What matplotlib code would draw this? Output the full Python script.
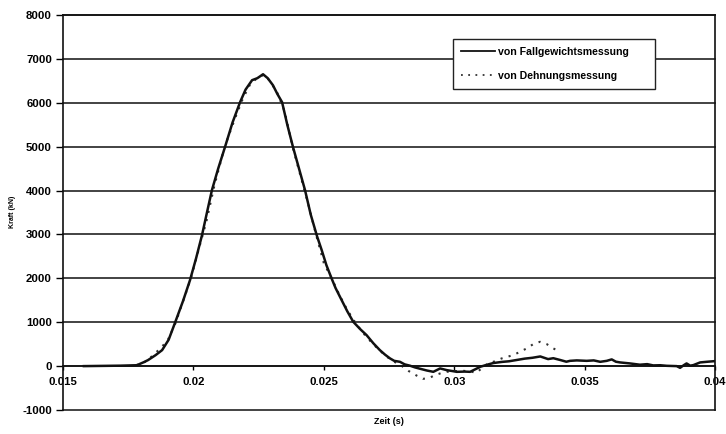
import matplotlib
matplotlib.use("Agg")
import matplotlib.pyplot as plt
from matplotlib.lines import Line2D

# Fallgewichtsmessung (solid)
t_fall = [0.0158, 0.0165, 0.0172, 0.01783, 0.0181, 0.01826, 0.01855, 0.01880, 0.01905, 0.01929,
          0.01960, 0.01987, 0.02010, 0.02033, 0.02052, 0.02071, 0.02095, 0.02121, 0.02150, 0.02179,
          0.02200, 0.02225, 0.02245, 0.02255, 0.02267, 0.02285, 0.02305, 0.02322, 0.02340, 0.02360,
          0.02382, 0.02405, 0.02428, 0.02450, 0.02474, 0.02492, 0.02510, 0.02530, 0.02545, 0.02562,
          0.02590, 0.02613, 0.02640, 0.02664, 0.02690, 0.02715, 0.02735, 0.02754, 0.02770, 0.02792,
          0.02810, 0.02830, 0.02850, 0.02869, 0.02895, 0.02920, 0.02946, 0.02971, 0.02990, 0.03010,
          0.03040, 0.03061, 0.03085, 0.03100, 0.03125, 0.03150, 0.03182, 0.03210, 0.03240, 0.03270,
          0.03300, 0.03330, 0.03345, 0.03360, 0.03380, 0.03406, 0.03430, 0.03444, 0.03470, 0.03508,
          0.03535, 0.03560, 0.03585, 0.03604, 0.03620, 0.03636, 0.03674, 0.03712, 0.03740, 0.03763,
          0.03790, 0.03815, 0.03853, 0.03866, 0.03880, 0.03891, 0.03905, 0.03917, 0.03943, 0.03968,
          0.04000]
f_fall = [0, 5, 10, 20, 90, 137, 250, 364, 600, 980,
          1480, 1959, 2450, 2984, 3500, 4009, 4500, 4989, 5550, 6014,
          6300, 6515, 6560, 6600, 6650, 6560, 6400, 6200, 6014, 5500,
          4989, 4500, 4009, 3450, 2960, 2642, 2300, 1997, 1780, 1579,
          1250, 1009, 840, 706, 520, 364, 260, 175, 120, 98,
          40, 10, -30, -60, -100, -130, -53, -91, -110, -130,
          -125, -130, -60, -15, 30, 70, 95, 110, 140, 170,
          190, 220, 190, 160, 180, 140, 100, 120, 130, 120,
          130, 98, 120, 153, 100, 84, 61, 32, 45, 16,
          20, 7, 0, -39, 20, 61, 10, 23, 84, 98,
          114]

# Dehnungsmessung (dotted)
t_dehn = [0.0178, 0.0182, 0.0186, 0.0190, 0.0193, 0.0196, 0.0199, 0.0202, 0.0205, 0.0208,
          0.0212, 0.0216, 0.0219, 0.0222, 0.0225, 0.0227, 0.0229, 0.0232, 0.0235, 0.0238,
          0.0241, 0.0244, 0.0247, 0.0250, 0.0253, 0.0256, 0.0259, 0.0262, 0.0265, 0.0268,
          0.0271, 0.0274, 0.0277, 0.02800, 0.02824, 0.02856, 0.02880, 0.02905, 0.02926, 0.02950,
          0.02971, 0.03000, 0.03034, 0.03060, 0.03086, 0.03105, 0.03125, 0.03155, 0.03182, 0.03205,
          0.03227, 0.03252, 0.03278, 0.03303, 0.03329, 0.03355, 0.03380, 0.03406]
f_dehn = [20, 110, 330, 570, 960, 1470, 1990, 2650, 3300, 4100,
          5000, 5650, 6100, 6450, 6580, 6640, 6520, 6250, 5800, 5000,
          4350, 3700, 3000, 2350, 2000, 1620, 1280, 1000, 760, 560,
          380, 220, 100, 0, -107, -216, -290, -270, -205, -160,
          -130, -115, -107, -120, -153, -50, 39, 110, 175, 215,
          251, 326, 403, 501, 554, 501, 403, 326]

x_ticks = [0.015, 0.02, 0.025, 0.03, 0.035, 0.04]
x_ticklabels = ["0.015", "0.02", "0.025", "0.03", "0.035", "0.04"]
y_ticks = [-1000, 0, 1000, 2000, 3000, 4000, 5000, 6000, 7000, 8000]

plt.rcParams['font.family'] = ['Liberation Sans', 'DejaVu Sans']

fig = plt.figure(figsize=(7.26, 4.34), dpi=100)
ax = fig.add_axes([63/726, 1 - 410/434, (715-63)/726, (410-15)/434])

ax.set_xlim(0.015, 0.04)
ax.set_ylim(-1000, 8000)

for y in y_ticks:
    ax.axhline(y, color='#222222', lw=1.2, zorder=1, clip_on=False)

ax.plot(t_fall, f_fall, color='#111111', lw=1.8, zorder=3, label='von Fallgewichtsmessung')
ax.plot(t_dehn, f_dehn, color='#333333', lw=1.5, linestyle=(0, (1, 3)), zorder=2,
        label='von Dehnungsmessung')

ax.spines['bottom'].set_position(('data', 0))
for s in ['left', 'right', 'top', 'bottom']:
    ax.spines[s].set_color('#111111')
    ax.spines[s].set_linewidth(1.2)

ax.set_xticks(x_ticks)
ax.set_xticklabels(x_ticklabels)
ax.set_yticks(y_ticks)
ax.set_yticklabels([str(v) for v in y_ticks])
ax.tick_params(axis='x', direction='out', length=3, width=1, pad=5, labelsize=8.2)
ax.tick_params(axis='y', direction='out', length=5, width=1, pad=3, labelsize=8.2)
for lab in ax.get_xticklabels() + ax.get_yticklabels():
    lab.set_fontweight('bold')

fig.text(0.5 * (63 + 715) / 726, 1 - 422/434, 'Zeit (s)', ha='center', va='center',
         fontsize=6.5, fontweight='bold')
fig.text(12/726, 1 - 212/434, 'Kraft (kN)', ha='center', va='center', rotation=90,
         fontsize=5, fontweight='bold')

handles = [Line2D([0], [0], color='#111111', lw=1.3),
           Line2D([0], [0], color='#333333', lw=1.3, linestyle=(0, (1, 3)))]
leg = ax.legend(handles, ['von Fallgewichtsmessung', 'von Dehnungsmessung'],
                loc='upper left',
                bbox_to_anchor=((453-63)/652, (410-39)/395 - 52/395, 202/652, 52/395),
                mode='expand',
                frameon=True, fancybox=False, framealpha=1, edgecolor='#222222',
                prop={'size': 7.6, 'weight': 'bold'}, handlelength=3.2,
                borderpad=0.75, labelspacing=1.3, handletextpad=0.35, borderaxespad=0)
leg.get_frame().set_linewidth(1.0)

fig.savefig('out.png', dpi=100, facecolor='white')
